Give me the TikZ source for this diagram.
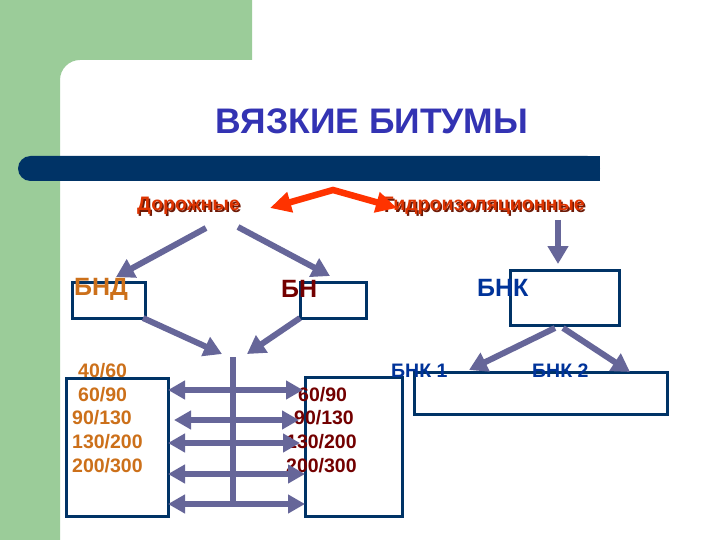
\documentclass[tikz,border=0pt]{standalone}
\usepackage{fontspec}
\setmainfont{Liberation Sans}
\usetikzlibrary{arrows.meta}
\definecolor{bggreen}{RGB}{155,204,153}
\definecolor{navy}{RGB}{0,51,102}
\definecolor{titleblue}{RGB}{51,51,179}
\definecolor{arrred}{RGB}{255,51,0}
\definecolor{txtred}{RGB}{221,51,0}
\definecolor{shadowred}{RGB}{110,25,5}
\definecolor{arrgray}{RGB}{102,102,153}
\definecolor{orng}{RGB}{204,112,26}
\definecolor{dred}{RGB}{115,0,0}
\definecolor{bnkblue}{RGB}{0,51,153}
\tikzset{
  x=1pt,y=-1pt,
  box/.style={draw=navy,line width=3pt},
  garrow/.style={draw=arrgray,line width=6pt,-{Triangle[length=18pt,width=20pt]}},
  harrow/.style={draw=arrgray,line width=6pt,{Triangle[length=17pt,width=18pt]}-{Triangle[length=17pt,width=18pt]}},
  rarrow/.style={draw=arrred,line width=6.5pt,{Triangle[length=21pt,width=20pt]}-{Triangle[length=21pt,width=20pt]}},
  lbl/.style={inner sep=0pt,font=\bfseries\fontsize{25}{28}\selectfont},
  num/.style={inner sep=0pt,anchor=west,font=\bfseries\fontsize{19.5}{22}\selectfont},
  sub/.style={inner sep=0pt,font=\bfseries\fontsize{19.5}{22}\selectfont},
}
\begin{document}
\begin{tikzpicture}
\useasboundingbox (0,0) rectangle (720,540);
% background
\fill[white] (0,0) rectangle (720,540);
\fill[bggreen] (0,0) -- (252,0) -- (252,60) [rounded corners=20pt] -- (60,60) [sharp corners] -- (60,540) -- (0,540) -- cycle;
\fill[navy,rounded corners=12.5pt] (18,156) rectangle (600,181);
\fill[navy] (580,156) rectangle (600,181);
% title
\node[inner sep=0pt,text=titleblue,font=\bfseries\fontsize{35.5}{38}\selectfont] (title) at (372,121) {ВЯЗКИЕ БИТУМЫ};
% category labels with shadow
\node[sub,text=shadowred] at (190,207.5) {Дорожные};
\node[sub,text=txtred] (dor) at (188.5,206) {Дорожные};
\node[sub,text=shadowred,anchor=east] at (586.5,207.5) {Гидроизоляционные};
\node[sub,text=txtred,anchor=east] (gid) at (585,206) {Гидроизоляционные};
% boxes
\node[box,minimum width=73pt,minimum height=36pt,inner sep=0pt] (bndbox) at (108.5,300) {};
\node[box,minimum width=66pt,minimum height=36pt,inner sep=0pt] (bnbox) at (333,300) {};
\node[box,minimum width=109pt,minimum height=55pt,inner sep=0pt] (bnkbox) at (564.5,297.5) {};
\node[box,minimum width=102pt,minimum height=138pt,inner sep=0pt] (lbox) at (117,447) {};
\node[box,minimum width=97pt,minimum height=139pt,inner sep=0pt] (rbox) at (354,446.5) {};
\node[box,minimum width=253pt,minimum height=42pt,inner sep=0pt] (subbox) at (540.5,393) {};
% box labels
\node[lbl,text=orng,anchor=west] (bnd) at (74,289) {БНД};
\node[lbl,text=dred,anchor=west] (bn) at (281,289) {БН};
\node[lbl,text=bnkblue,anchor=west] (bnk) at (477,288) {БНК};
\node[sub,text=bnkblue,anchor=west] (bnk1) at (391,371) {БНК 1};
\node[sub,text=bnkblue,anchor=west] (bnk2) at (532,371) {БНК 2};
% number lists
\node[num,text=orng] (l1) at (78,371) {40/60};
\node[num,text=orng] (l2) at (78,395) {60/90};
\node[num,text=orng] (l3) at (72,418) {90/130};
\node[num,text=orng] (l4) at (72,442) {130/200};
\node[num,text=orng] (l5) at (72,466) {200/300};
\node[num,text=dred] (r2) at (298,395) {60/90};
\node[num,text=dred] (r3) at (294,418) {90/130};
\node[num,text=dred] (r4) at (286,442) {130/200};
\node[num,text=dred] (r5) at (286,466) {200/300};
% coordinates
\coordinate (d1) at (206,228); \coordinate (d1t) at (116,277);
\coordinate (d2) at (238,227); \coordinate (d2t) at (330,276);
\coordinate (g1) at (558,220); \coordinate (g1t) at (558,264);
\coordinate (k1) at (555,328); \coordinate (k1t) at (469,370);
\coordinate (k2) at (563,328); \coordinate (k2t) at (630,372);
\coordinate (a1) at (143,318); \coordinate (a1t) at (222,354);
\coordinate (b1) at (300,318); \coordinate (b1t) at (247,354);
\coordinate (vt) at (233,357); \coordinate (vb) at (233,501);
\coordinate (h1l) at (168,390); \coordinate (h1r) at (303,390);
\coordinate (h2l) at (174,420); \coordinate (h2r) at (299,420);
\coordinate (h3l) at (168,443); \coordinate (h3r) at (300,443);
\coordinate (h4l) at (168,474); \coordinate (h4r) at (305,474);
\coordinate (h5l) at (168,504); \coordinate (h5r) at (305,504);
\coordinate (rl) at (270,208); \coordinate (rp) at (333,190); \coordinate (rr) at (397,208);
% arrows
\draw[garrow] (d1) -- (d1t);
\draw[garrow] (d2) -- (d2t);
\draw[garrow] (g1) -- (g1t);
\draw[garrow] (k1) -- (k1t);
\draw[garrow] (k2) -- (k2t);
\draw[garrow] (a1) -- (a1t);
\draw[garrow] (b1) -- (b1t);
\draw[draw=arrgray,line width=6pt] (vt) -- (vb);
\draw[harrow] (h1l) -- (h1r);
\draw[harrow] (h2l) -- (h2r);
\draw[harrow] (h3l) -- (h3r);
\draw[harrow] (h4l) -- (h4r);
\draw[harrow] (h5l) -- (h5r);
\draw[rarrow] (rl) -- (rp) -- (rr);
\end{tikzpicture}
\end{document}
